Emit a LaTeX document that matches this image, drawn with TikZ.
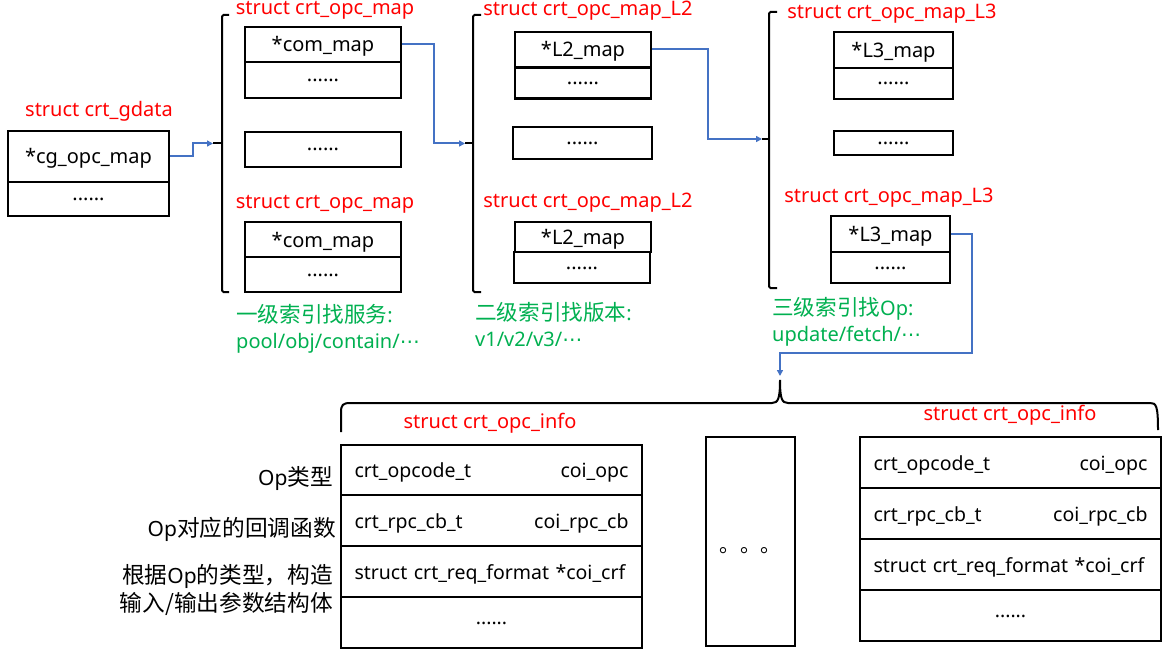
\documentclass[tikz,border=0pt]{standalone}
\usepackage{fontspec}
\setmainfont{Noto Sans}
\newfontfamily\cjk[Scale=1.08]{Noto Sans CJK SC}
\newfontfamily\symf{DejaVu Sans}
\usetikzlibrary{arrows.meta}
\definecolor{linkblue}{RGB}{68,114,196}
\definecolor{namered}{RGB}{255,0,0}
\definecolor{notegreen}{RGB}{0,176,80}
\newcommand{\mdots}{{\symf ⋯}}
\tikzset{
  cell/.style 2 args={draw,line width=2.4pt,minimum width=#1,minimum height=#2,inner sep=0pt,text height=17pt,text depth=2pt,font=\fontsize{20}{22}\selectfont},
  inforow/.style={draw,line width=2.2pt,minimum width=301,minimum height=#1,inner sep=0pt,text width=274pt,text height=17pt,text depth=2pt,align=left,font=\fontsize{19.5}{22}\selectfont},
  gapcell/.style={text height=3pt,text depth=0pt},
  sname/.style={text=namered,inner sep=0pt,font=\fontsize{20}{22}\selectfont},
  note/.style={text=notegreen,inner sep=0pt,align=left,font=\fontsize{20}{26}\selectfont},
  remark/.style={inner sep=0pt,align=right,font=\fontsize{21}{28}\selectfont},
  bracket/.style={line width=2pt,rounded corners=1.5pt},
  link/.style={draw=linkblue,line width=2pt,-{Triangle[length=6pt,width=6pt]}}
}
\begin{document}
\begin{tikzpicture}[x=1pt,y=-1pt]
    \useasboundingbox (0,0) rectangle (1170,650);
    \node[sname] (lgdata) at (99,111) {struct crt\_gdata};
    \node[cell={161}{51}] (gmap) at (88.5,156.5) {*cg\_opc\_map};
    \node[cell={161}{34},gapcell] (gdots) at (88.5,199) {......};

    \node[sname] (l1a) at (325,10) {struct crt\_opc\_map};
    \node[cell={156}{35}] (c1a) at (323,44.5) {*com\_map};
    \node[cell={156}{36},gapcell] (c1b) at (323,80) {......};
    \node[cell={156}{35},gapcell] (c1c) at (323,149.5) {......};
    \node[sname] (l1b) at (325,204) {struct crt\_opc\_map};
    \node[cell={156}{35}] (c1d) at (323,239.5) {*com\_map};
    \node[cell={156}{35},gapcell] (c1e) at (323,274.5) {......};
    \node[note,anchor=west] (n1) at (236,329) {{\cjk 一级索引找服务}:\\pool/obj/contain/\mdots};

    \node[sname] (l2a) at (588,11) {struct crt\_opc\_map\_L2};
    \node[cell={136}{35}] (d1a) at (583,49.5) {*L2\_map};
    \node[cell={136}{31},gapcell] (d1b) at (583,83) {......};
    \node[cell={139}{32},gapcell] (d1c) at (582.5,143) {......};
    \node[sname] (l2b) at (588,203) {struct crt\_opc\_map\_L2};
    \node[cell={136}{30}] (d1d) at (583,237) {*L2\_map};
    \node[cell={136}{31},gapcell] (d1e) at (582,267.5) {......};
    \node[note,anchor=west] (n2) at (475,325) {{\cjk 二级索引找版本}:\\v1/v2/v3/\mdots};

    \node[sname] (l3a) at (892,14) {struct crt\_opc\_map\_L3};
    \node[cell={119}{36}] (e1a) at (893.5,50) {*L3\_map};
    \node[cell={119}{31},gapcell] (e1b) at (893.5,83.5) {......};
    \node[cell={119}{24},gapcell] (e1c) at (893.5,143) {......};
    \node[sname] (l3b) at (889,198) {struct crt\_opc\_map\_L3};
    \node[cell={119}{36}] (e1d) at (890.5,234) {*L3\_map};
    \node[cell={119}{31},gapcell] (e1e) at (890.5,267.5) {......};
    \node[note,anchor=west] (n3) at (772,322) {{\cjk 三级索引找}Op:\\update/fetch/\mdots};

    \coordinate (b1tip) at (213,143.5);
    \coordinate (b2tip) at (465,143.5);
    \coordinate (b3tip) at (762,139);
    \coordinate (turn) at (972,353);
    \coordinate (b4tip) at (780,376);

    \draw[bracket] (229,15) -- (222,15) -- (222,292) -- (229,292);
    \draw[line width=2pt] (b1tip) -- (222,143.5);
    \draw[bracket] (481,15) -- (473,15) -- (473,292) -- (481,292);
    \draw[line width=2pt] (b2tip) -- (473,143.5);
    \draw[bracket] (777,12) -- (769,12) -- (769,288) -- (777,288);
    \draw[line width=2pt] (b3tip) -- (769,139);

    \draw[link] (gmap.east) -- ++(23,0) |- (b1tip);
    \draw[link] (c1a.east) -- ++(32,0) |- (b2tip);
    \draw[link] (d1a.east) -- ++(56,0) |- (b3tip);
    \draw[link] (e1d.east) -| (turn) -| (b4tip);

    \draw[line width=2pt] (341,432) -- (341,412) .. controls (341,405) and (343,403) .. (350,403)
        -- (772,403) .. controls (778,403) and (780,399) .. (780,380)
        .. controls (780,399) and (782,403) .. (788,403)
        -- (1150,403) .. controls (1156,403) and (1158,405) .. (1158,430);

    \node[sname] (linfo1) at (490,423) {struct crt\_opc\_info};
    \node[inforow=50] (i1a) at (491.5,470) {crt\_opcode\_t\hfill coi\_opc};
    \node[inforow=51] (i1b) at (491.5,520.5) {crt\_rpc\_cb\_t\hfill coi\_rpc\_cb};
    \node[inforow=51] (i1c) at (491.5,571.5) {struct crt\_req\_format *coi\_crf};
    \node[inforow=51,align=center,gapcell] (i1d) at (491.5,622.5) {......};

    \node[remark,anchor=east] (r1) at (333,479) {Op{\cjk 类型}};
    \node[remark,anchor=east] (r2) at (336,529) {Op{\cjk 对应的回调函数}};
    \node[remark,anchor=east] (r3) at (333,590) {{\cjk 根据}Op{\cjk 的类型，构造}\\{\cjk 输入/输出参数结构体}};

    \node[cell={89}{209},text height=10pt,text depth=0pt,font=\cjk\fontsize{19}{20}\selectfont] (mid) at (750.5,541.5) {\raisebox{-6pt}{。。。}};

    \node[sname] (linfo2) at (1010,415) {struct crt\_opc\_info};
    \node[inforow=51] (i2a) at (1010.5,462.5) {crt\_opcode\_t\hfill coi\_opc};
    \node[inforow=51] (i2b) at (1010.5,513.5) {crt\_rpc\_cb\_t\hfill coi\_rpc\_cb};
    \node[inforow=51] (i2c) at (1010.5,564.5) {struct crt\_req\_format *coi\_crf};
    \node[inforow=51,align=center,gapcell] (i2d) at (1010.5,615.5) {......};
\end{tikzpicture}
\end{document}
